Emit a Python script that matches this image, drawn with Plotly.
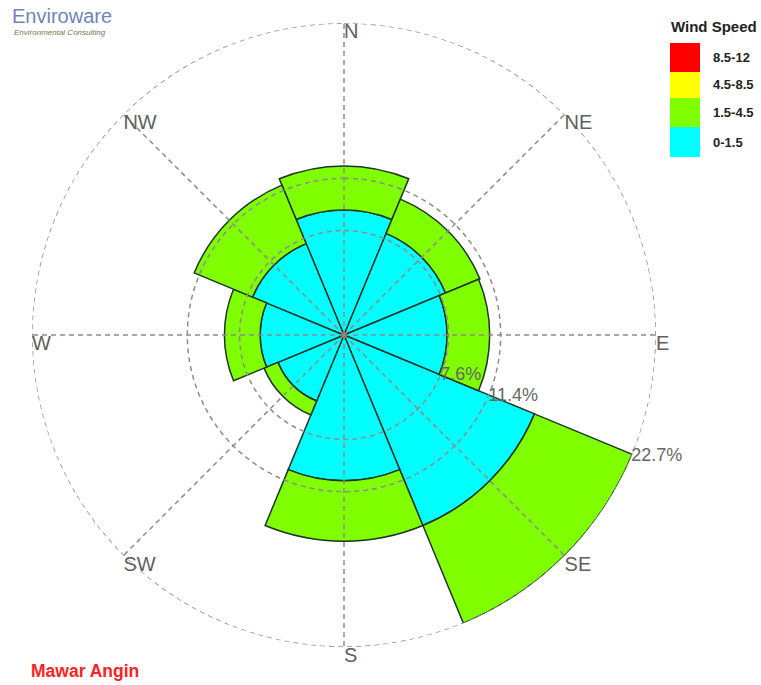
import plotly.graph_objects as go

# ---------------- data ----------------
directions = ["N", "NE", "E", "SE", "S", "SW", "W", "NW"]
dir_angles = [0, 45, 90, 135, 180, 225, 270, 315]

speed_bins = ["0-1.5", "1.5-4.5", "4.5-8.5", "8.5-12"]
bin_colors = ["#00FFFF", "#7FFF00", "#FFFF00", "#FF0000"]

freq_0_1_5 = [9.1, 8.0, 7.5, 15.0, 10.6, 5.2, 6.1, 7.2]
freq_1_5_4_5 = [3.2, 2.7, 3.1, 7.7, 4.4, 1.1, 2.6, 4.6]
freq_4_5_8_5 = [0, 0, 0, 0, 0, 0, 0, 0]
freq_8_5_12 = [0, 0, 0, 0, 0, 0, 0, 0]

ring_ticks = [7.6, 11.4, 22.7]
ring_label_angle = 113

series = [freq_0_1_5, freq_1_5_4_5, freq_4_5_8_5, freq_8_5_12]

# ---------------- figure ----------------
W, H = 761, 685
FONT = "Liberation Sans, Arial, sans-serif"
GRID = "#8c8c8c"
DASH = "5px,4px"

fig = go.Figure()

for name, col, vals in zip(speed_bins, bin_colors, series):
    fig.add_trace(go.Barpolar(
        r=vals, theta=dir_angles, width=[45] * len(dir_angles), name=name,
        marker=dict(color=col, line=dict(color="#1c3528", width=1.5)),
        showlegend=False,
    ))

rmax = ring_ticks[-1]
# dashed grid drawn over the bars
for rt in ring_ticks:
    th = list(range(0, 361, 2))
    fig.add_trace(go.Scatterpolar(
        r=[rt] * len(th), theta=th, mode="lines",
        line=dict(color=GRID, width=1.5, dash=DASH),
        hoverinfo="skip", showlegend=False,
    ))
for a in dir_angles:
    fig.add_trace(go.Scatterpolar(
        r=[0, rmax], theta=[a, a], mode="lines",
        line=dict(color=GRID, width=1.5, dash=DASH),
        hoverinfo="skip", showlegend=False,
    ))

# ring labels
fig.add_trace(go.Scatterpolar(
    r=ring_ticks, theta=[ring_label_angle] * len(ring_ticks), mode="text",
    text=["%g%%" % v for v in ring_ticks], textposition="middle right",
    cliponaxis=False,
    textfont=dict(family=FONT, size=18, color="#666666"),
    hoverinfo="skip", showlegend=False,
))

# direction labels
fig.add_trace(go.Scatterpolar(
    r=[rmax] * len(directions), theta=dir_angles, mode="text",
    text=directions, textposition="bottom right", cliponaxis=False,
    textfont=dict(family=FONT, size=20, color="#5f5f5f"),
    hoverinfo="skip", showlegend=False,
))

cx, cy, R = 344, 335, 312

fig.update_layout(
    width=W, height=H,
    margin=dict(l=0, r=0, t=0, b=0),
    paper_bgcolor="white",
    font=dict(family=FONT),
    polar=dict(
        domain=dict(x=[(cx - R) / W, (cx + R) / W], y=[1 - (cy + R) / H, 1 - (cy - R) / H]),
        bgcolor="white",
        barmode="stack",
        angularaxis=dict(rotation=90, direction="clockwise", showticklabels=False,
                         showgrid=False, showline=False, ticks=""),
        radialaxis=dict(range=[0, rmax], showgrid=False, showline=False, ticks="",
                        showticklabels=False),
    ),
)

# custom legend
shapes = []
annotations = []
box_x0, box_x1 = 670, 700
box_tops = [43, 72, 98, 127]
box_bots = [72, 98, 127, 157]
for i, (name, col) in enumerate(zip(speed_bins[::-1], bin_colors[::-1])):
    shapes.append(dict(type="rect", xref="paper", yref="paper",
                       x0=box_x0 / W, x1=box_x1 / W,
                       y0=1 - box_bots[i] / H, y1=1 - box_tops[i] / H,
                       fillcolor=col, line=dict(width=0)))
    annotations.append(dict(xref="paper", yref="paper", x=711 / W,
                            y=1 - (box_tops[i] + box_bots[i]) / 2 / H,
                            xanchor="left", yanchor="middle", showarrow=False,
                            text="<b>%s</b>" % name,
                            font=dict(family=FONT, size=13, color="#222222")))
annotations.append(dict(xref="paper", yref="paper", x=669 / W, y=1 - 26 / H,
                        xanchor="left", yanchor="middle", showarrow=False,
                        text="<b>Wind Speed</b>",
                        font=dict(family=FONT, size=15, color="#222222")))
# logo
annotations.append(dict(xref="paper", yref="paper", x=10 / W, y=1 - 16 / H,
                        xanchor="left", yanchor="middle", showarrow=False,
                        text="Enviroware",
                        font=dict(family=FONT, size=20, color="#6f86b8")))
annotations.append(dict(xref="paper", yref="paper", x=12 / W, y=1 - 33 / H,
                        xanchor="left", yanchor="middle", showarrow=False,
                        text="<i>Environmental Consulting</i>",
                        font=dict(family=FONT, size=8, color="#6c7d55")))
# caption
annotations.append(dict(xref="paper", yref="paper", x=29 / W, y=1 - 671 / H,
                        xanchor="left", yanchor="middle", showarrow=False,
                        text="<b>Mawar Angin</b>",
                        font=dict(family=FONT, size=17.5, color="#ff2222")))

fig.update_layout(shapes=shapes, annotations=annotations)

fig.write_html("out.html", config={"displayModeBar": False},
               post_script="document.body.style.margin='0px';")
